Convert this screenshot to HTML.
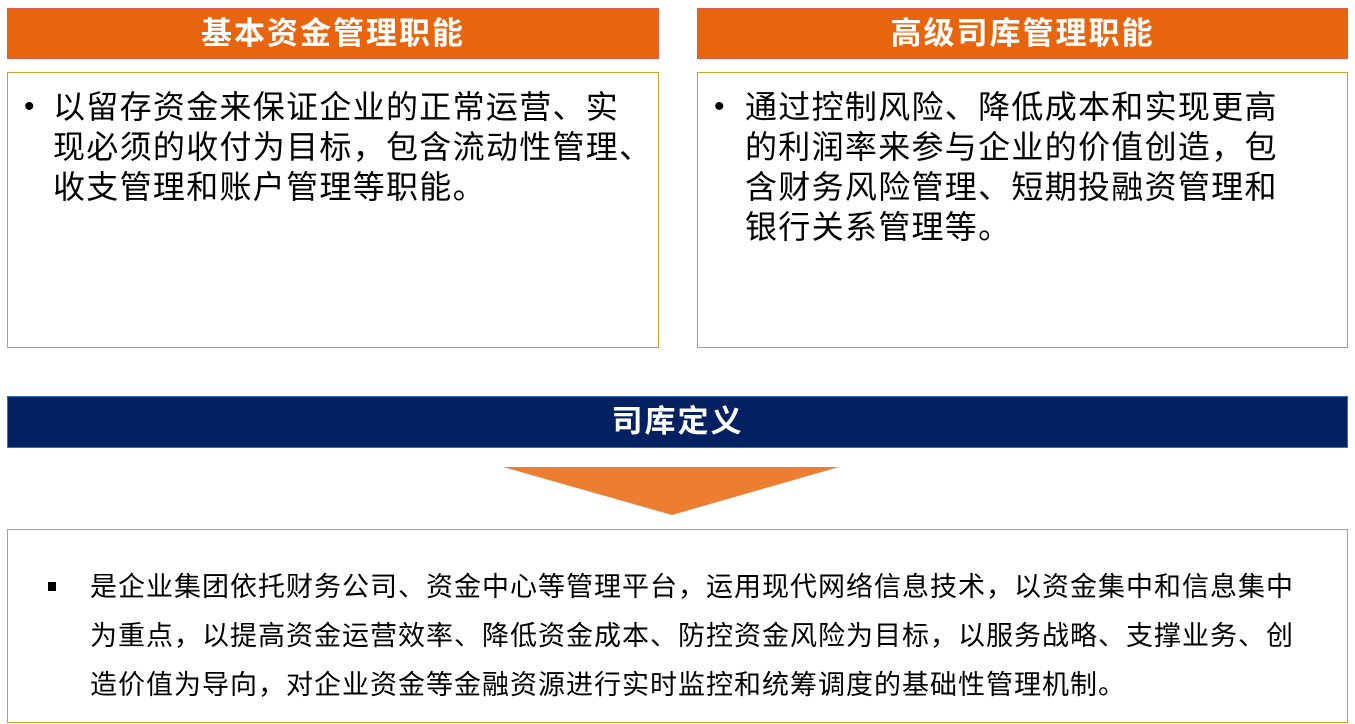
<!DOCTYPE html>
<html><head><meta charset="utf-8">
<style>
body{margin:0;width:1355px;height:724px;background:#fff;position:relative;overflow:hidden;font-family:"Liberation Sans","Noto Sans CJK SC",sans-serif;}
.hd{position:absolute;height:51px;background:#E8650F;color:#fff;font-weight:bold;font-size:31px;letter-spacing:2px;text-align:center;line-height:50px;box-sizing:border-box;border:1px solid #e05a4a;}
.box{position:absolute;border:1px solid #C9A227;box-sizing:border-box;}
.t{position:absolute;font-size:32px;letter-spacing:1.3px;line-height:40px;color:#000;white-space:nowrap;}
.b{position:absolute;font-size:26px;}
.bt{position:absolute;font-size:27px;letter-spacing:1px;line-height:49px;white-space:nowrap;color:#000;}
</style></head><body>
<div class="hd" style="left:7px;top:8px;width:652px;">基本资金管理职能</div>
<div class="hd" style="left:697px;top:8px;width:651px;">高级司库管理职能</div>
<div class="box" style="left:7px;top:72px;width:652px;height:276px;"></div>
<div class="box" style="left:697px;top:72px;width:651px;height:276px;"></div>
<div class="b" style="left:24px;top:90px;font-size:30px;">•</div>
<div class="t" style="left:53px;top:87px;">以留存资金来保证企业的正常运营、实<br>现必须的收付为目标，包含流动性管理、<br>收支管理和账户管理等职能。</div>
<div class="b" style="left:714px;top:90px;font-size:30px;">•</div>
<div class="t" style="left:745px;top:87px;">通过控制风险、降低成本和实现更高<br>的利润率来参与企业的价值创造，包<br>含财务风险管理、短期投融资管理和<br>银行关系管理等。</div>
<div style="position:absolute;left:7px;top:396px;width:1341px;height:52px;background:#032060;border:1px solid #2e6fc0;box-sizing:border-box;color:#fff;font-weight:bold;font-size:31px;letter-spacing:2px;text-align:center;line-height:50px;">司库定义</div>
<svg style="position:absolute;left:0;top:0" width="1355" height="724"><polygon points="503,467 839,467 672,515" fill="#ED7D31"/></svg>
<div class="box" style="left:7px;top:529px;width:1341px;height:194px;"></div>
<div style="position:absolute;left:48px;top:582px;width:8px;height:9px;background:#000;"></div>
<div class="bt" style="left:90px;top:563px;">是企业集团依托财务公司、资金中心等管理平台，运用现代网络信息技术，以资金集中和信息集中<br>为重点，以提高资金运营效率、降低资金成本、防控资金风险为目标，以服务战略、支撑业务、创<br>造价值为导向，对企业资金等金融资源进行实时监控和统筹调度的基础性管理机制。</div>
</body></html>
